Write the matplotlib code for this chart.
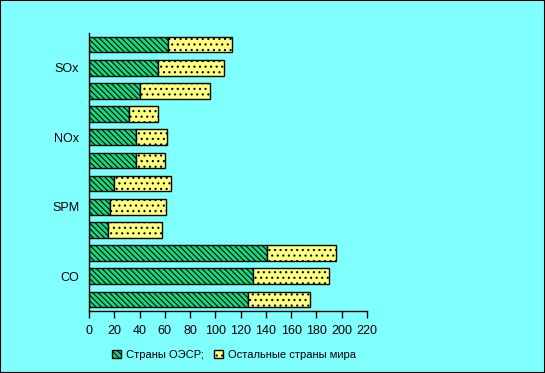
import numpy as np
import matplotlib.pyplot as plt

plt.rcParams['font.family'] = ['Liberation Sans', 'DejaVu Sans']
plt.rcParams['hatch.linewidth'] = 0.8

categories = ['CO', 'SPM', 'NOx', 'SOx']
# три столбца на каждую категорию, снизу вверх
oecd = [126, 130, 140.5, 15, 17, 19.5, 37, 37, 32, 40, 54.5, 62.5]
other = [49, 60, 55, 43, 44, 45, 23.5, 24.5, 22.5, 56, 52, 51]
xticks = np.arange(0, 221, 20)

bg = '#80ffff'
green = '#11dd80'
yellow = '#ffff80'

fig = plt.figure(figsize=(5.45, 3.73), dpi=100, facecolor=bg)
ax = fig.add_axes([89 / 545, 1 - 311 / 373, 278 / 545, 278 / 373])
ax.set_facecolor(bg)

y = np.arange(len(oecd))
ax.barh(y, oecd, height=0.67, color=green, edgecolor='black', linewidth=1.0,
        hatch='\\\\\\\\\\\\', label='Страны ОЭСР;')
ax.barh(y, other, left=oecd, height=0.67, color=yellow, edgecolor='black',
        linewidth=1.0, hatch='...', label='Остальные страны мира')

ax.set_xlim(0, 220)
ax.set_ylim(-0.5, 11.5)
ax.set_xticks(xticks)
ax.set_yticks([1, 4, 7, 10])
ax.set_yticklabels(categories)
ax.tick_params(axis='y', length=0, pad=7, labelsize=9)
ax.tick_params(axis='x', length=5, width=1, direction='out', labelsize=9, pad=5)
for s in ['top', 'right']:
    ax.spines[s].set_visible(False)
ax.spines['left'].set_linewidth(1)
ax.spines['bottom'].set_linewidth(1)

fig.legend(loc='center', bbox_to_anchor=(234 / 545, 1 - 355 / 373), ncol=2,
           frameon=False, fontsize=8, handlelength=0.8, handleheight=0.8,
           columnspacing=1.0, handletextpad=0.4)

fig.patches.append(plt.Rectangle((0, 0), 1, 1, transform=fig.transFigure,
                                 fill=False, edgecolor='black', linewidth=1.5))
fig.savefig('out.png', dpi=100, facecolor=bg)
